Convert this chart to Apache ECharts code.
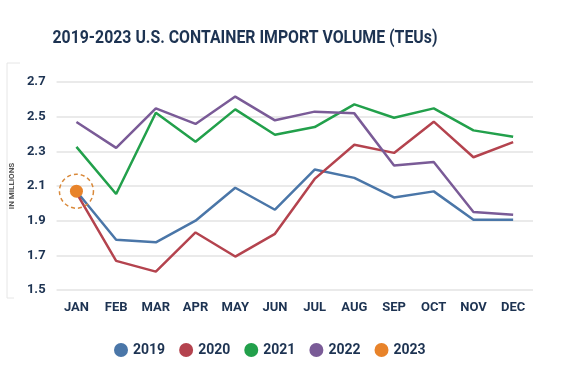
<!DOCTYPE html>
<html><head><meta charset="utf-8">
<script src="https://cdn.jsdelivr.net/npm/echarts@6/dist/echarts.min.js"></script>
<style>html,body{margin:0;padding:0;background:#fff}#c{width:577px;height:380px}</style>
</head><body><div id="c"></div>
<script>
const months = ['JAN','FEB','MAR','APR','MAY','JUN','JUL','AUG','SEP','OCT','NOV','DEC'];
const yTicks = ['1.5','1.7','1.9','2.1','2.3','2.5','2.7'];
const v2019 = [2.07,1.79,1.775,1.90,2.09,1.963,2.195,2.147,2.034,2.069,1.905,1.905];
const v2020 = [2.06,1.668,1.606,1.832,1.693,1.824,2.141,2.338,2.291,2.471,2.266,2.353];
const v2021 = [2.326,2.054,2.523,2.355,2.542,2.396,2.44,2.571,2.494,2.548,2.421,2.384];
const v2022 = [2.469,2.32,2.548,2.458,2.616,2.479,2.529,2.519,2.218,2.239,1.95,1.934];
const v2023 = [2.07,null,null,null,null,null,null,null,null,null,null,null];
const names = ['2019','2020','2021','2022','2023'];
const colors = ['#4a76a8','#b4434e','#22a04b','#7a5b97','#e8832a'];
const navy = '#1d3352';
const titleText = '2019-2023 U.S. CONTAINER IMPORT VOLUME (TEUs)';

const chart = echarts.init(document.getElementById('c'));
const lineSeries = [v2019,v2020,v2021,v2022].map((d,i)=>({
  name: names[i], type:'line', data:d, yAxisIndex:1,
  symbol:'none', lineStyle:{width:2.5, color:colors[i]}, itemStyle:{color:colors[i]}, z:2
}));
lineSeries.push({
  name: names[4], type:'line', data:v2023, yAxisIndex:1,
  symbol:'circle', symbolSize:13, showSymbol:true,
  itemStyle:{color:colors[4]}, lineStyle:{color:colors[4]}, z:5,
  markPoint:{
    symbol:'circle', symbolSize:34, silent:true, label:{show:false},
    itemStyle:{color:'transparent', borderColor:'#d9893a', borderWidth:1.5, borderType:[4,3]},
    data:[{type:'max'}]
  }
});
chart.setOption({
  animation:false,
  legend:{data:names, left:109, top:338, itemWidth:14, itemHeight:14, icon:'circle', itemGap:14,
    textStyle:{fontFamily:'Roboto, sans-serif', fontWeight:'bold', fontSize:14, color:navy}},
  grid:{left:40, right:44, top:82, bottom:90},
  xAxis:{type:'category', data:months, boundaryGap:true,
    axisLine:{show:false}, axisTick:{show:false},
    axisLabel:{margin:11, fontFamily:'Roboto, sans-serif', fontWeight:'bold', fontSize:13, color:navy}},
  yAxis:[
    {type:'category', data:yTicks, boundaryGap:false,
     axisLine:{show:false}, axisTick:{show:false},
     axisLabel:{margin:11, fontFamily:'Roboto, sans-serif', fontWeight:'bold', fontSize:13, color:navy},
     splitLine:{show:true, lineStyle:{color:'#e3e3e3', width:1.5}},
     name:'IN MILLIONS', nameLocation:'middle', nameGap:35, nameRotate:90,
     nameTextStyle:{fontFamily:'Roboto, sans-serif', fontSize:8, fontWeight:'bold', color:'#555'}},
    {type:'value', min:1.5, max:2.7, show:false, splitLine:{show:false}}
  ],
  graphic:[
    {type:'polyline', shape:{points:[[20,63],[7,63],[7,298],[14,298]]}, style:{stroke:'#e6e6e6', lineWidth:1, fill:null}},
    {type:'text', x:245, y:38, scaleX:0.88, style:{text:titleText, align:'center', verticalAlign:'middle',
      font:'bold 18px Roboto, sans-serif', fill:navy}}
  ],
  series: lineSeries
});
</script></body></html>
